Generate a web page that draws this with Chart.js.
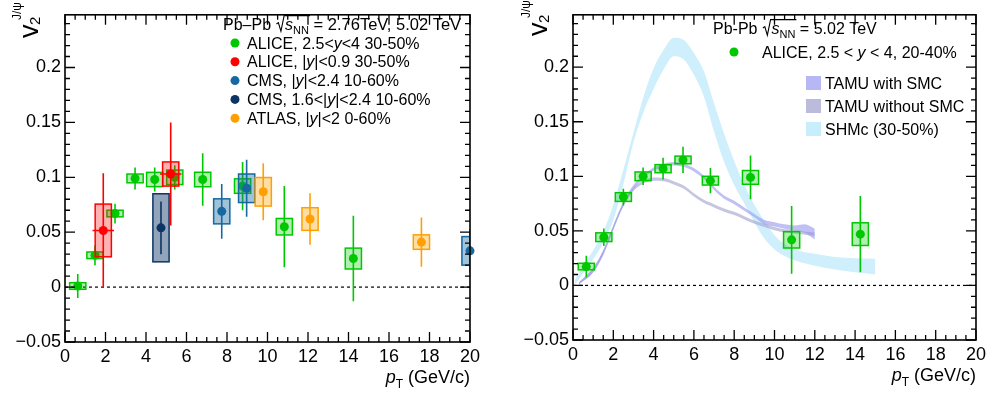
<!DOCTYPE html>
<html>
<head>
<meta charset="utf-8">
<script src="https://cdn.jsdelivr.net/npm/chart.js@4.4.0/dist/chart.umd.min.js"></script>
<style>
  body { margin: 0; background: #fff; }
  .wrap { display: flex; width: 990px; height: 395px; }
  .panel { width: 495px; height: 395px; }
</style>
</head>
<body>
<div class="wrap">
  <div class="panel"><canvas id="left" width="495" height="395"></canvas></div>
  <div class="panel"><canvas id="right" width="495" height="395"></canvas></div>
</div>
<script>
const FONT = '"Liberation Sans", Arial, Helvetica, sans-serif';

// axis ticks shared by both panels
const X_TICKS = [0, 2, 4, 6, 8, 10, 12, 14, 16, 18, 20];
const Y_TICKS = [-0.05, 0, 0.05, 0.1, 0.15, 0.2];
const Y_TICK_LABELS = ['\u22120.05', '0', '0.05', '0.1', '0.15', '0.2'];

// ---- left panel: world data ----
const aliceFwdPt = [0.63, 1.48, 2.47, 3.46, 4.43, 5.42, 6.8, 8.77, 10.83, 14.24];
const aliceFwdV2 = [0.001, 0.029, 0.067, 0.099, 0.098, 0.100, 0.098, 0.092, 0.055, 0.026];
const aliceFwdStat = [0.011, 0.009, 0.009, 0.010, 0.011, 0.011, 0.024, 0.022, 0.037, 0.039];
const aliceFwdSys = [0.003, 0.003, 0.003, 0.004, 0.0065, 0.0066, 0.0066, 0.0066, 0.0075, 0.0095];

const aliceMidPt = [1.89, 5.22];
const aliceMidV2 = [0.0516, 0.103];
const aliceMidStat = [0.052, 0.047];
const aliceMidSys = [0.024, 0.011];
const aliceMidPtErr = [0.53, 0.53];

const cmsPt = [7.74, 8.97, 20.0];
const cmsV2 = [0.069, 0.090, 0.033];
const cmsStat = [0.025, 0.026, 0.02];
const cmsSys = [0.0114, 0.013, 0.013];

const cmsFwdPt = [4.74];
const cmsFwdV2 = [0.054];
const cmsFwdStat = [0.024];
const cmsFwdSys = [0.031];

const atlasPt = [9.79, 12.1, 17.6];
const atlasV2 = [0.0868, 0.062, 0.041];
const atlasStat = [0.026, 0.0235, 0.0225];
const atlasSys = [0.013, 0.0103, 0.0066];

// ---- right panel: ALICE 5.02 TeV, 20-40% vs models ----
const alice502Pt = [0.66, 1.53, 2.5, 3.48, 4.47, 5.46, 6.82, 8.81, 10.85, 14.26];
const alice502V2 = [0.0173, 0.0442, 0.081, 0.100, 0.107, 0.115, 0.096, 0.099, 0.0418, 0.047];
const alice502Stat = [0.0098, 0.008, 0.0077, 0.008, 0.010, 0.012, 0.0115, 0.020, 0.031, 0.035];
const alice502Sys = [0.003, 0.004, 0.004, 0.004, 0.0037, 0.0035, 0.004, 0.0063, 0.0075, 0.0104];

const shmcPt = [0.1, 0.5, 1, 1.5, 2, 2.5, 3, 3.5, 4, 4.5, 5, 5.5, 6, 6.5, 7, 7.5, 8, 8.5, 9, 9.5, 10, 10.5, 11, 12, 13, 14, 15];
const shmcUpper = [0.005, 0.018, 0.032, 0.049, 0.074, 0.106, 0.140, 0.173, 0.199, 0.216, 0.227, 0.225, 0.213, 0.196, 0.167, 0.139, 0.114, 0.092, 0.074, 0.059, 0.046, 0.038, 0.033, 0.029, 0.026, 0.0248, 0.0245];
const shmcLower = [0.001, 0.011, 0.024, 0.039, 0.060, 0.093, 0.131, 0.159, 0.180, 0.198, 0.210, 0.207, 0.193, 0.173, 0.141, 0.113, 0.092, 0.075, 0.058, 0.043, 0.033, 0.027, 0.023, 0.018, 0.0145, 0.012, 0.0101];

const tamuPt = [0.3, 1, 1.5, 2, 2.5, 3, 3.5, 4, 4.5, 5, 5.5, 6, 6.5, 7, 7.5, 8, 8.5, 9, 9.5, 10, 10.5, 11, 11.5, 12];
const tamuSmcUpper = [0.003, 0.016, 0.032, 0.055, 0.077, 0.092, 0.1015, 0.108, 0.1115, 0.113, 0.1115, 0.1075, 0.1005, 0.0905, 0.0825, 0.0775, 0.0715, 0.0655, 0.060, 0.058, 0.056, 0.055, 0.056, 0.052];
const tamuSmcLower = [0.001, 0.012, 0.028, 0.051, 0.073, 0.088, 0.0985, 0.105, 0.1085, 0.110, 0.1085, 0.1045, 0.0975, 0.0875, 0.0795, 0.0745, 0.0685, 0.0625, 0.056, 0.054, 0.052, 0.050, 0.048, 0.042];
const tamuNoSmcUpper = [0.003, 0.016, 0.032, 0.055, 0.0755, 0.0895, 0.0965, 0.099, 0.0985, 0.0955, 0.0915, 0.0845, 0.0785, 0.0745, 0.0705, 0.0675, 0.0635, 0.0595, 0.0565, 0.0535, 0.0515, 0.0505, 0.0495, 0.0485];
const tamuNoSmcLower = [0.001, 0.012, 0.028, 0.051, 0.0725, 0.0865, 0.0935, 0.096, 0.0955, 0.0925, 0.0885, 0.0815, 0.0755, 0.0715, 0.0675, 0.0645, 0.0605, 0.0565, 0.0535, 0.0505, 0.0485, 0.0475, 0.0465, 0.0455];

const GREEN = '#00c800';
const RED = '#ff0000';
const CMS_BLUE = '#1568a0';
const CMS_NAVY = '#0d3564';
const ORANGE = '#ffa000';
const SHMC_FILL = 'rgba(190, 234, 250, 0.75)';
const TAMU_SMC_FILL = 'rgba(150, 150, 238, 0.6)';
const TAMU_NOSMC_FILL = 'rgba(160, 160, 205, 0.6)';

function toPoints(xs, ys) {
  return xs.map((x, i) => ({ x, y: ys[i] }));
}

// A data series drawn as marker + stat bar + systematic box.
function pointSeries(label, xs, ys, stat, sys, color, boxFill, order, extra) {
  return Object.assign({
    label,
    type: 'line',
    showLine: false,
    data: toPoints(xs, ys),
    stat,
    sys,
    boxHalf: 0.4,
    color,
    boxFill,
    order,
    pointRadius: 4.5,
    pointBorderWidth: 0,
    pointBackgroundColor: color,
    borderColor: color,
  }, extra || {});
}

function bandEdge(label, xs, ys, order, fillTarget, fillColor) {
  return {
    label,
    type: 'line',
    data: toPoints(xs, ys),
    pointRadius: 0,
    borderWidth: 0,
    borderColor: 'rgba(0,0,0,0)',
    cubicInterpolationMode: 'monotone',
    fill: fillTarget === undefined ? false : fillTarget,
    backgroundColor: fillColor || 'rgba(0,0,0,0)',
    order,
  };
}

// Draws the systematic boxes and the stat error bars under the markers.
const errorBoxes = {
  id: 'errorBoxes',
  beforeDatasetDraw(chart, args) {
    const ds = chart.data.datasets[args.index];
    if (!ds.sys) return;
    const { ctx, chartArea: a, scales: { x, y } } = chart;
    ctx.save();
    ctx.beginPath();
    ctx.rect(a.left, a.top, a.right - a.left, a.bottom - a.top);
    ctx.clip();
    ds.data.forEach((p, i) => {
      const x0 = x.getPixelForValue(p.x - ds.boxHalf);
      const x1 = x.getPixelForValue(p.x + ds.boxHalf);
      const y0 = y.getPixelForValue(p.y + ds.sys[i]);
      const y1 = y.getPixelForValue(p.y - ds.sys[i]);
      ctx.fillStyle = ds.boxFill;
      ctx.fillRect(x0, y0, x1 - x0, y1 - y0);
      ctx.strokeStyle = ds.color;
      ctx.lineWidth = 1.5;
      ctx.strokeRect(x0, y0, x1 - x0, y1 - y0);
    });
    ds.data.forEach((p, i) => {
      const px = x.getPixelForValue(p.x);
      ctx.strokeStyle = ds.color;
      ctx.lineWidth = 1.6;
      ctx.beginPath();
      ctx.moveTo(px, y.getPixelForValue(p.y + ds.stat[i]));
      ctx.lineTo(px, y.getPixelForValue(p.y - ds.stat[i]));
      if (ds.ptErr) {
        const py = y.getPixelForValue(p.y);
        ctx.moveTo(x.getPixelForValue(p.x - ds.ptErr[i]), py);
        ctx.lineTo(x.getPixelForValue(p.x + ds.ptErr[i]), py);
      }
      ctx.stroke();
    });
    ctx.restore();
  },
};

// ROOT-style frame: dashed zero line, inward major/minor ticks on all sides.
const rootFrame = {
  id: 'rootFrame',
  beforeDatasetsDraw(chart) {
    const { ctx, chartArea: a, scales: { y } } = chart;
    const y0 = y.getPixelForValue(0);
    ctx.save();
    ctx.setLineDash([3, 3]);
    ctx.lineWidth = 1.2;
    ctx.strokeStyle = '#000';
    ctx.beginPath();
    ctx.moveTo(a.left, y0);
    ctx.lineTo(a.right, y0);
    ctx.stroke();
    ctx.restore();
  },
  afterDatasetsDraw(chart) {
    const { ctx, chartArea: a, scales: { x, y } } = chart;
    ctx.save();
    ctx.strokeStyle = '#000';
    ctx.lineWidth = 1.3;
    ctx.beginPath();
    for (let k = 0; k <= 40; k++) {
      const px = x.getPixelForValue(k * 0.5);
      const len = k % 4 === 0 ? 10 : 5;
      ctx.moveTo(px, a.bottom);
      ctx.lineTo(px, a.bottom - len);
      ctx.moveTo(px, a.top);
      ctx.lineTo(px, a.top + len);
    }
    for (let k = -5; k <= 24; k++) {
      const py = y.getPixelForValue(k / 100);
      const len = k % 5 === 0 ? 10 : 5;
      ctx.moveTo(a.left, py);
      ctx.lineTo(a.left + len, py);
      ctx.moveTo(a.right, py);
      ctx.lineTo(a.right - len, py);
    }
    ctx.stroke();
    ctx.lineWidth = 1.6;
    ctx.strokeRect(a.left, a.top, a.right - a.left, a.bottom - a.top);
    ctx.restore();
  },
};

// ---- rich text helpers (italics, sub/superscripts, sqrt) ----
function fontOf(r) {
  return (r.i ? 'italic ' : '') + (r.s || 16) + 'px ' + FONT;
}
function runsWidth(ctx, runs) {
  let w = 0;
  runs.forEach((r) => {
    if (r.sqrt) {
      w += (r.s || 16) * 0.6 + runsWidth(ctx, r.sqrt);
    } else {
      ctx.font = fontOf(r);
      w += ctx.measureText(r.t).width;
    }
  });
  return w;
}
function drawRuns(ctx, x, y, runs) {
  runs.forEach((r) => {
    if (r.sqrt) {
      const s = r.s || 16;
      ctx.save();
      ctx.lineWidth = 1.1;
      ctx.strokeStyle = '#000';
      ctx.beginPath();
      ctx.moveTo(x + 0.06 * s, y - 0.38 * s);
      ctx.lineTo(x + 0.18 * s, y - 0.46 * s);
      ctx.lineTo(x + 0.34 * s, y + 0.08 * s);
      ctx.lineTo(x + 0.54 * s, y - 0.9 * s);
      const end = x + s * 0.6 + runsWidth(ctx, r.sqrt);
      ctx.lineTo(end + 1, y - 0.9 * s);
      ctx.stroke();
      ctx.restore();
      x = drawRuns(ctx, x + s * 0.6, y, r.sqrt);
    } else {
      ctx.font = fontOf(r);
      ctx.fillText(r.t, x, y + (r.dy || 0));
      x += ctx.measureText(r.t).width;
    }
  });
  return x;
}

function drawAxisTitles(ctx, area, yTitleX, yTitleY, xTitleBase) {
  ctx.save();
  ctx.fillStyle = '#000';
  ctx.textBaseline = 'alphabetic';
  const xRuns = [{ t: 'p', i: true, s: 18 }, { t: 'T', s: 12, dy: 5 }, { t: ' (GeV/c)', s: 18 }];
  drawRuns(ctx, area.right - runsWidth(ctx, xRuns), xTitleBase, xRuns);
  ctx.translate(yTitleX, yTitleY);
  ctx.rotate(-Math.PI / 2);
  ctx.font = '27px ' + FONT;
  ctx.fillText('v', 0, 0);
  ctx.font = '15px ' + FONT;
  ctx.fillText('2', 13, 2);
  ctx.font = '12px ' + FONT;
  ctx.fillText('J/\u03c8', 18, -17);
  ctx.restore();
}

function scaleOptions(yAxisWidth, xAxisHeight) {
  const tickFont = { family: FONT, size: 18 };
  return {
    x: {
      type: 'linear',
      min: 0,
      max: 20,
      afterBuildTicks: (s) => { s.ticks = X_TICKS.map((v) => ({ value: v })); },
      afterFit: (s) => { s.height = xAxisHeight; },
      grid: { display: false, drawTicks: false },
      border: { display: false },
      ticks: { font: tickFont, color: '#000', padding: 4, maxRotation: 0, autoSkip: false },
    },
    y: {
      type: 'linear',
      min: -0.05,
      max: 0.248,
      afterBuildTicks: (s) => { s.ticks = Y_TICKS.map((v) => ({ value: v })); },
      afterFit: (s) => { s.width = yAxisWidth; },
      grid: { display: false, drawTicks: false },
      border: { display: false },
      ticks: {
        font: tickFont,
        color: '#000',
        padding: 4,
        autoSkip: false,
        callback: (v, i) => Y_TICK_LABELS[i],
      },
    },
  };
}

const commonPlugins = { legend: { display: false }, tooltip: { enabled: false } };

// ---------------- left chart ----------------
const leftLegend = [
  { color: GREEN, runs: [{ t: 'ALICE, 2.5<' }, { t: 'y', i: true }, { t: '<4 30-50%' }] },
  { color: RED, runs: [{ t: 'ALICE, |' }, { t: 'y', i: true }, { t: '|<0.9 30-50%' }] },
  { color: CMS_BLUE, runs: [{ t: 'CMS, |' }, { t: 'y', i: true }, { t: '|<2.4 10-60%' }] },
  { color: CMS_NAVY, runs: [{ t: 'CMS, 1.6<|' }, { t: 'y', i: true }, { t: '|<2.4 10-60%' }] },
  { color: ORANGE, runs: [{ t: 'ATLAS, |' }, { t: 'y', i: true }, { t: '|<2 0-60%' }] },
];

const leftText = {
  id: 'leftText',
  afterDraw(chart) {
    const { ctx, chartArea } = chart;
    ctx.save();
    ctx.fillStyle = '#000';
    drawRuns(ctx, 223, 30, [
      { t: 'Pb\u2013Pb ' },
      { sqrt: [{ t: 's', i: true }, { t: 'NN', s: 11, dy: 4 }] },
      { t: ' = 2.76TeV, 5.02 TeV', s: 16.5 },
    ]);
    leftLegend.forEach((e, i) => {
      const cy = 43 + i * 18.8;
      ctx.fillStyle = e.color;
      ctx.beginPath();
      ctx.arc(235, cy, 4.5, 0, Math.PI * 2);
      ctx.fill();
      ctx.fillStyle = '#000';
      drawRuns(ctx, 247, cy + 5.5, e.runs);
    });
    ctx.restore();
    drawAxisTitles(ctx, chartArea, 38, 38, 383);
  },
};

new Chart(document.getElementById('left'), {
  type: 'line',
  data: {
    datasets: [
      pointSeries('ATLAS', atlasPt, atlasV2, atlasStat, atlasSys, ORANGE, 'rgba(255,160,0,0.35)', 1),
      pointSeries('CMS fwd', cmsFwdPt, cmsFwdV2, cmsFwdStat, cmsFwdSys, CMS_NAVY, 'rgba(13,53,100,0.45)', 2),
      pointSeries('CMS', cmsPt, cmsV2, cmsStat, cmsSys, CMS_BLUE, 'rgba(21,104,160,0.4)', 3, { clip: 6 }),
      pointSeries('ALICE mid', aliceMidPt, aliceMidV2, aliceMidStat, aliceMidSys, RED, 'rgba(255,0,0,0.3)', 4, { ptErr: aliceMidPtErr }),
      pointSeries('ALICE fwd', aliceFwdPt, aliceFwdV2, aliceFwdStat, aliceFwdSys, GREEN, 'rgba(0,200,0,0.3)', 5),
    ],
  },
  options: {
    responsive: false,
    animation: false,
    events: [],
    layout: { padding: { left: 0, right: 25, top: 4, bottom: 0 } },
    scales: scaleOptions(65, 53),
    plugins: commonPlugins,
  },
  plugins: [rootFrame, errorBoxes, leftText],
});

// ---------------- right chart ----------------
const rightLegendBands = [
  { fill: 'rgba(170, 170, 245, 0.85)', label: 'TAMU with SMC' },
  { fill: 'rgba(180, 180, 215, 0.9)', label: 'TAMU without SMC' },
  { fill: 'rgba(200, 238, 252, 1)', label: 'SHMc (30-50%)' },
];

const rightText = {
  id: 'rightText',
  afterDraw(chart) {
    const { ctx, chartArea } = chart;
    ctx.save();
    ctx.fillStyle = '#000';
    drawRuns(ctx, 218, 34, [
      { t: 'Pb-Pb ' },
      { sqrt: [{ t: 's', i: true }, { t: 'NN', s: 11, dy: 4 }] },
      { t: ' = 5.02 TeV' },
    ]);
    ctx.fillStyle = GREEN;
    ctx.beginPath();
    ctx.arc(239, 52, 4.5, 0, Math.PI * 2);
    ctx.fill();
    ctx.fillStyle = '#000';
    drawRuns(ctx, 267, 57.5, [{ t: 'ALICE, 2.5 < ' }, { t: 'y', i: true }, { t: ' < 4, 20-40%' }]);
    rightLegendBands.forEach((e, i) => {
      const top = 76 + i * 23;
      ctx.fillStyle = e.fill;
      ctx.fillRect(311, top, 15, 14);
      ctx.fillStyle = '#000';
      drawRuns(ctx, 330, top + 13, [{ t: e.label }]);
    });
    ctx.restore();
    drawAxisTitles(ctx, chartArea, 52, 36, 381);
  },
};

new Chart(document.getElementById('right'), {
  type: 'line',
  data: {
    datasets: [
      pointSeries('ALICE 5.02', alice502Pt, alice502V2, alice502Stat, alice502Sys, GREEN, 'rgba(0,200,0,0.3)', 1),
      bandEdge('TAMU SMC upper', tamuPt, tamuSmcUpper, 20),
      bandEdge('TAMU SMC lower', tamuPt, tamuSmcLower, 21, 1, TAMU_SMC_FILL),
      bandEdge('TAMU noSMC upper', tamuPt, tamuNoSmcUpper, 22),
      bandEdge('TAMU noSMC lower', tamuPt, tamuNoSmcLower, 23, 3, TAMU_NOSMC_FILL),
      bandEdge('SHMc upper', shmcPt, shmcUpper, 24),
      bandEdge('SHMc lower', shmcPt, shmcLower, 25, 5, SHMC_FILL),
    ],
  },
  options: {
    responsive: false,
    animation: false,
    events: [],
    layout: { padding: { left: 0, right: 12, top: 7, bottom: 0 } },
    scales: scaleOptions(78, 55),
    plugins: Object.assign({ filler: { propagate: false } }, commonPlugins),
  },
  plugins: [rootFrame, errorBoxes, rightText],
});
</script>
</body>
</html>
